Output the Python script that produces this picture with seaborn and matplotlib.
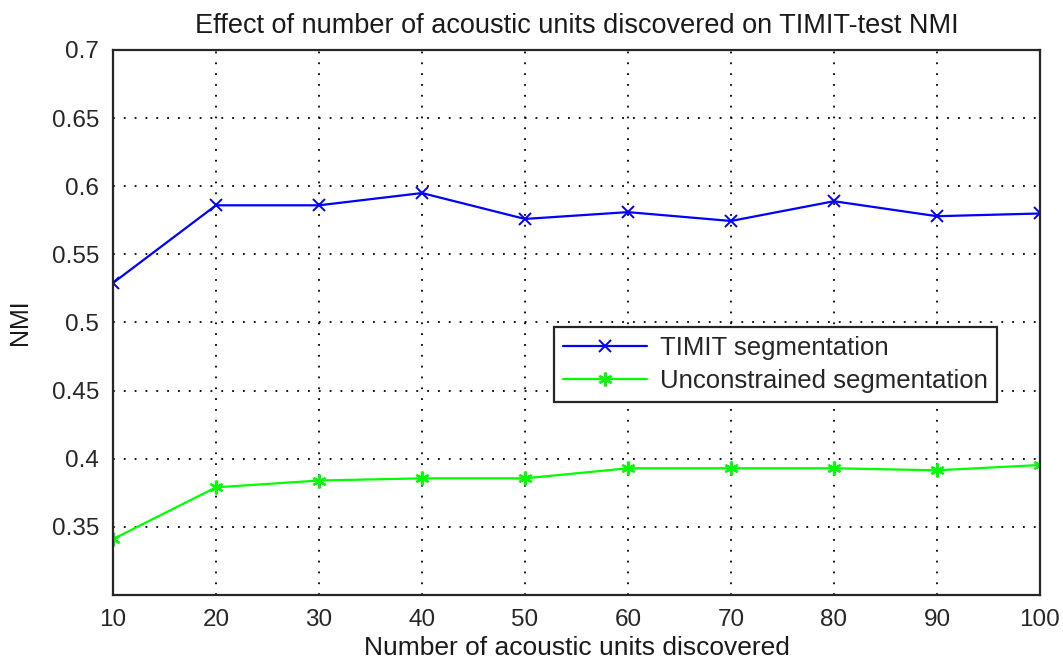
import matplotlib
matplotlib.use("Agg")
import matplotlib.pyplot as plt
import seaborn as sns
import pandas as pd

# Number of acoustic units discovered
units = [10, 20, 30, 40, 50, 60, 70, 80, 90, 100]
# NMI on TIMIT-test for each segmentation
timit_nmi = [0.529, 0.586, 0.586, 0.595, 0.576, 0.581, 0.5745, 0.589, 0.578, 0.580]
unconstrained_nmi = [0.341, 0.379, 0.384, 0.3856, 0.3856, 0.393, 0.393, 0.393, 0.3915, 0.3954]
series_names = ["TIMIT segmentation", "Unconstrained segmentation"]
yticks = [0.35, 0.4, 0.45, 0.5, 0.55, 0.6, 0.65, 0.7]

timit_df = pd.DataFrame({"units": units, "nmi": timit_nmi})
uncon_df = pd.DataFrame({"units": units, "nmi": unconstrained_nmi})

sns.set_style("white")
plt.rcParams["font.family"] = ["Liberation Sans", "DejaVu Sans"]

fig = plt.figure(figsize=(10.63, 6.63), dpi=100)
ax = fig.add_axes([0.1063, 0.1026, 0.8720, 0.8220])

blue, green = "#0000ff", "#00ff00"
sns.lineplot(data=timit_df, x="units", y="nmi", color=blue, marker="x",
             linewidth=1.6, markersize=8, markeredgewidth=1.4,
             markeredgecolor=blue, label=series_names[0], ax=ax)
# six-spoke asterisk marker
sns.lineplot(data=uncon_df, x="units", y="nmi", color=green, marker=(6, 2, 0),
             linewidth=1.6, markersize=10, markeredgewidth=1.6,
             markeredgecolor=green, label=series_names[1], ax=ax)

ax.set_xlim(10, 100)
ax.set_ylim(0.3, 0.7)
ax.set_xticks(units)
ax.set_yticks(yticks)
ax.set_yticklabels([f"{v:g}" for v in yticks])

ax.grid(True, color="black", linestyle=(0, (1, 5)), linewidth=1.3)
ax.set_axisbelow(True)
for s in ax.spines.values():
    s.set_visible(True)
    s.set_color("#262626")
    s.set_linewidth(1.6)

ax.tick_params(axis="both", direction="in", length=9, width=1.6, color="#262626",
               labelsize=17.5, labelcolor="#262626", pad=10,
               top=False, right=False)

ax.set_title("Effect of number of acoustic units discovered on TIMIT-test NMI",
             fontsize=19.5, color="#1a1a1a", pad=12)
ax.set_xlabel("Number of acoustic units discovered", fontsize=19, color="#1a1a1a", labelpad=4)
ax.set_ylabel("NMI", fontsize=18, color="#1a1a1a", labelpad=14)

leg = ax.legend(
    loc="upper right", bbox_to_anchor=(0.9676, 0.5156), fontsize=18.5,
    frameon=True, fancybox=False, edgecolor="#262626", framealpha=1,
    handlelength=3.3, borderpad=0.35, labelspacing=0.35, handletextpad=0.5,
)
leg.get_frame().set_linewidth(1.6)

fig.savefig("out.png", dpi=100)
